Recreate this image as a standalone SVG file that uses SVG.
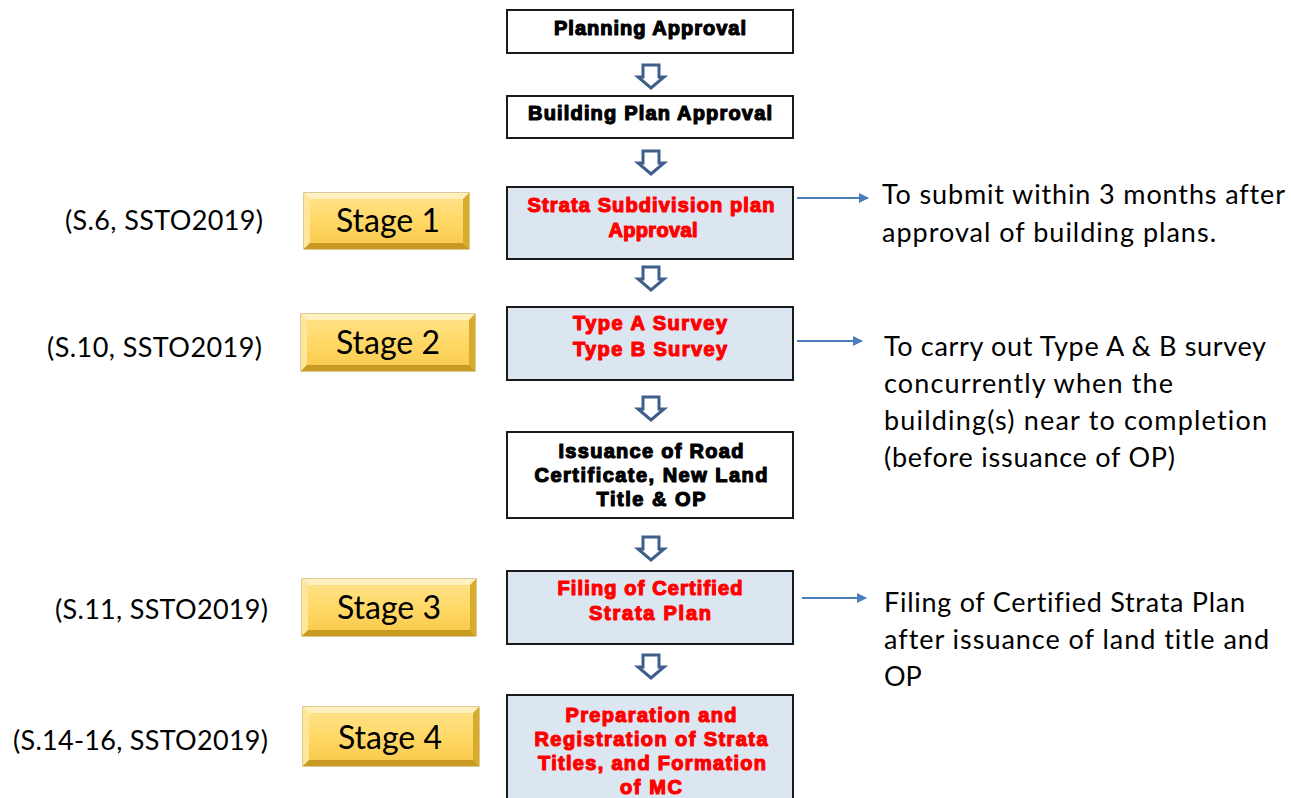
<svg xmlns="http://www.w3.org/2000/svg" width="1291" height="798" viewBox="0 0 1291 798">
  <defs>
    <linearGradient id="goldFace" x1="0" y1="0" x2="0" y2="1">
      <stop offset="0" stop-color="#ffe38e"/>
      <stop offset="0.5" stop-color="#ffd866"/>
      <stop offset="1" stop-color="#f7c94a"/>
    </linearGradient>
    <marker id="tip" viewBox="0 0 10 10" refX="9" refY="5" markerWidth="5" markerHeight="5" markerUnits="strokeWidth" orient="auto">
      <path d="M0,0 L10,5 L0,10 z" fill="#4a7ebb"/>
    </marker>
    <!-- hollow block arrow pointing down, centred on x=0, top at y=0 -->
    <path id="down" d="M-8,0 H8 V12 H13 L0,23 L-13,12 H-8 Z"/>
  </defs>
  <style>
    .box { stroke: #1a1a1a; stroke-width: 2; }
    .plain { fill: #ffffff; }
    .shaded { fill: #dce6f1; }
    .bt { font-family: "Liberation Sans", Arial, sans-serif; font-weight: bold; font-size: 20px; text-anchor: middle; stroke-width: 1.2; stroke-linejoin: round; }
    .blk { fill: #000; stroke: #000; }
    .red { fill: #ff0000; stroke: #ff0000; }
    .side, .ref, .stg { font-family: Lato, "Open Sans", sans-serif; fill: #000; font-variant-ligatures: none; }
    .side { font-size: 27px; }
    .ref { font-size: 27px; text-anchor: end; }
    .stg { font-size: 32px; text-anchor: middle; }
    .flow { fill: #ffffff; stroke: #3f5f8a; stroke-width: 3; stroke-linejoin: miter; }
    .conn { stroke: #4a7ebb; stroke-width: 2; fill: none; marker-end: url(#tip); }
    .gold { fill: url(#goldFace); stroke: #b8952e; stroke-width: 1; }
    .bevT { fill: #fff0c0; }
    .bevL { fill: #ffe69a; }
    .bevR { fill: #d9ab2c; }
    .bevB { fill: #c99a22; }
  </style>

  <!-- flow boxes -->
  <g id="planning-approval">
    <rect class="box plain" x="507" y="10" width="286" height="43"/>
    <text class="bt blk" x="650" y="35" textLength="192">Planning Approval</text>
  </g>
  <g id="building-plan-approval">
    <rect class="box plain" x="507" y="96" width="286" height="42"/>
    <text class="bt blk" x="650" y="120" textLength="244">Building Plan Approval</text>
  </g>
  <g id="strata-subdivision">
    <rect class="box shaded" x="507" y="187" width="286" height="72"/>
    <text class="bt red" x="651" y="212" textLength="247">Strata Subdivision plan</text>
    <text class="bt red" x="653" y="237" textLength="89">Approval</text>
  </g>
  <g id="survey">
    <rect class="box shaded" x="507" y="307" width="286" height="73"/>
    <text class="bt red" x="650" y="330" textLength="154">Type A Survey</text>
    <text class="bt red" x="650" y="356" textLength="154">Type B Survey</text>
  </g>
  <g id="issuance">
    <rect class="box plain" x="507" y="432" width="286" height="86"/>
    <text class="bt blk" x="651" y="458" textLength="185">Issuance of Road</text>
    <text class="bt blk" x="651" y="482" textLength="233">Certificate, New Land</text>
    <text class="bt blk" x="651" y="506" textLength="109">Title &amp; OP</text>
  </g>
  <g id="filing">
    <rect class="box shaded" x="507" y="571" width="286" height="73"/>
    <text class="bt red" x="650" y="595" textLength="185">Filing of Certified</text>
    <text class="bt red" x="650" y="620" textLength="122">Strata Plan</text>
  </g>
  <g id="registration">
    <rect class="box shaded" x="507" y="695" width="286" height="110"/>
    <text class="bt red" x="651" y="722" textLength="171">Preparation and</text>
    <text class="bt red" x="651" y="746" textLength="233">Registration of Strata</text>
    <text class="bt red" x="652" y="770" textLength="228">Titles, and Formation</text>
    <text class="bt red" x="651" y="794" textLength="62">of MC</text>
  </g>

  <!-- stage badges -->
  <g id="stage-1">
    <rect class="gold" x="304" y="193" width="165" height="56"/>
    <polygon class="bevT" points="304,193 469,193 463,199 310,199"/>
    <polygon class="bevL" points="304,193 310,199 310,243 304,249"/>
    <polygon class="bevR" points="469,193 469,249 463,243 463,199"/>
    <polygon class="bevB" points="304,249 469,249 463,243 310,243"/>
    <text class="stg" x="388" y="232">Stage 1</text>
  </g>
  <g id="stage-2">
    <rect class="gold" x="301" y="314" width="174" height="57"/>
    <polygon class="bevT" points="301,314 475,314 469,320 307,320"/>
    <polygon class="bevL" points="301,314 307,320 307,365 301,371"/>
    <polygon class="bevR" points="475,314 475,371 469,365 469,320"/>
    <polygon class="bevB" points="301,371 475,371 469,365 307,365"/>
    <text class="stg" x="388" y="354">Stage 2</text>
  </g>
  <g id="stage-3">
    <rect class="gold" x="302" y="579" width="174" height="57"/>
    <polygon class="bevT" points="302,579 476,579 470,585 308,585"/>
    <polygon class="bevL" points="302,579 308,585 308,630 302,636"/>
    <polygon class="bevR" points="476,579 476,636 470,630 470,585"/>
    <polygon class="bevB" points="302,636 476,636 470,630 308,630"/>
    <text class="stg" x="389" y="619">Stage 3</text>
  </g>
  <g id="stage-4">
    <rect class="gold" x="303" y="707" width="176" height="59"/>
    <polygon class="bevT" points="303,707 479,707 473,713 309,713"/>
    <polygon class="bevL" points="303,707 309,713 309,760 303,766"/>
    <polygon class="bevR" points="479,707 479,766 473,760 473,713"/>
    <polygon class="bevB" points="303,766 479,766 473,760 309,760"/>
    <text class="stg" x="390" y="749">Stage 4</text>
  </g>

  <!-- section references -->
  <g id="refs">
    <text class="ref" x="263" y="230" textLength="198">(S.6, SSTO2019)</text>
    <text class="ref" x="262" y="357" textLength="215">(S.10, SSTO2019)</text>
    <text class="ref" x="268" y="619" textLength="213">(S.11, SSTO2019)</text>
    <text class="ref" x="268" y="750" textLength="255">(S.14-16, SSTO2019)</text>
  </g>

  <!-- notes -->
  <g id="note-1">
    <text class="side" x="882" y="204" textLength="403">To submit within 3 months after</text>
    <text class="side" x="882" y="242" textLength="334">approval of building plans.</text>
  </g>
  <g id="note-2">
    <text class="side" x="884" y="356" textLength="382">To carry out Type A &amp; B survey</text>
    <text class="side" x="884" y="393" textLength="289">concurrently when the</text>
    <text class="side" x="884" y="430" textLength="383">building(s) near to completion</text>
    <text class="side" x="884" y="467" textLength="291">(before issuance of OP)</text>
  </g>
  <g id="note-3">
    <text class="side" x="884" y="612" textLength="361">Filing of Certified Strata Plan</text>
    <text class="side" x="884" y="649" textLength="385">after issuance of land title and</text>
    <text class="side" x="884" y="686">OP</text>
  </g>

  <!-- connectors -->
  <g id="connectors">
    <use href="#down" class="flow" x="651" y="65"/>
    <use href="#down" class="flow" x="651" y="151"/>
    <use href="#down" class="flow" x="651" y="267"/>
    <use href="#down" class="flow" x="651" y="397"/>
    <use href="#down" class="flow" x="651" y="537"/>
    <use href="#down" class="flow" x="651" y="655"/>
    <line class="conn" x1="797" y1="198" x2="868" y2="198"/>
    <line class="conn" x1="797" y1="341" x2="862" y2="341"/>
    <line class="conn" x1="802" y1="598" x2="866" y2="598"/>
  </g>
</svg>
